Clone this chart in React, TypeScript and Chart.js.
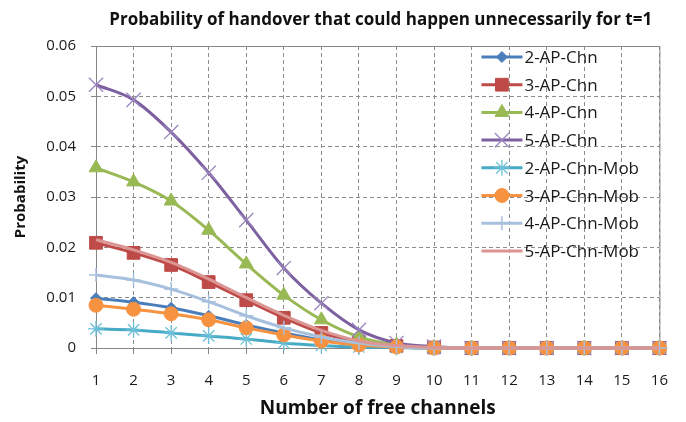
import React, { useEffect, useRef } from 'react';
import { Chart, registerables } from 'chart.js';
import { drawPoint } from 'chart.js/helpers';

Chart.register(...registerables);

const channels = ['1', '2', '3', '4', '5', '6', '7', '8', '9', '10', '11', '12', '13', '14', '15', '16'];

const apChn2 = [0.0099, 0.0091, 0.008, 0.0064, 0.0046, 0.003, 0.0016, 0.0007, 0.0002, 0, 0, 0, 0, 0, 0, 0];
const apChn3 = [0.0209, 0.0189, 0.0165, 0.0131, 0.0095, 0.006, 0.003, 0.0012, 0.0004, 0.0001, 0, 0, 0, 0, 0, 0];
const apChn4 = [0.0358, 0.033, 0.0292, 0.0234, 0.0167, 0.0105, 0.0056, 0.0022, 0.0006, 0.0001, 0, 0, 0, 0, 0, 0];
const apChn5 = [0.0523, 0.0493, 0.0429, 0.0348, 0.0254, 0.0159, 0.0089, 0.0036, 0.001, 0.0003, 0, 0, 0, 0, 0, 0];
const apChnMob2 = [0.0038, 0.0036, 0.003, 0.0024, 0.0018, 0.001, 0.0005, 0.0002, 0.0001, 0, 0, 0, 0, 0, 0, 0];
const apChnMob3 = [0.0085, 0.0077, 0.0068, 0.0056, 0.004, 0.0026, 0.0014, 0.0006, 0.0002, 0, 0, 0, 0, 0, 0, 0];
const apChnMob4 = [0.0145, 0.0135, 0.0117, 0.0092, 0.0064, 0.004, 0.0022, 0.001, 0.0003, 0, 0, 0, 0, 0, 0, 0];
const apChnMob5 = [0.0215, 0.0195, 0.017, 0.0137, 0.01, 0.0065, 0.0035, 0.0014, 0.0005, 0.0001, 0, 0, 0, 0, 0, 0];

const seriesNames = ['2-AP-Chn', '3-AP-Chn', '4-AP-Chn', '5-AP-Chn', '2-AP-Chn-Mob', '3-AP-Chn-Mob', '4-AP-Chn-Mob', '5-AP-Chn-Mob'];
const seriesData = [apChn2, apChn3, apChn4, apChn5, apChnMob2, apChnMob3, apChnMob4, apChnMob5];

const yTicks = [0, 0.01, 0.02, 0.03, 0.04, 0.05, 0.06];

const chartTitle = 'Probability of handover that could happen unnecessarily for t=1';
const xTitle = 'Number of free channels';
const yTitle = 'Probability';

const styles = [
  { color: '#4a7ebb', marker: '#4a7ebb', style: 'rectRot', r: 5.5, bw: 1 },
  { color: '#be4b48', marker: '#be4b48', style: 'rect', r: 9, bw: 1 },
  { color: '#98b954', marker: '#98b954', style: 'triangle', r: 8, bw: 1 },
  { color: '#7d60a0', marker: '#9a86bd', style: 'crossRot', r: 10, bw: 1.3 },
  { color: '#46aac5', marker: '#6cc0d8', style: 'star', r: 8, bw: 1.3 },
  { color: '#f69240', marker: '#f69240', style: 'circle', r: 7, bw: 1 },
  { color: '#a7c0de', marker: '#a7c0de', style: 'cross', r: 7, bw: 1.5 },
  { color: '#db9694', marker: '#db9694', style: false as any, r: 0, bw: 0 },
];

const FONT = '"Open Sans", Lato, sans-serif';

const framePlugin = {
  id: 'frame',
  beforeDatasetsDraw(chart: any) {
    const { ctx, chartArea: a } = chart;
    ctx.save();
    ctx.strokeStyle = '#868686';
    ctx.lineWidth = 1;
    ctx.beginPath();
    ctx.moveTo(a.left, a.top + 0.5);
    ctx.lineTo(a.right + 0.5, a.top + 0.5);
    ctx.lineTo(a.right + 0.5, a.bottom);
    ctx.stroke();
    ctx.restore();
  },
  afterDraw(chart: any) {
    const { ctx, chartArea: a } = chart;
    ctx.save();
    // title
    ctx.fillStyle = '#111';
    ctx.font = `bold 17px ${FONT}`;
    ctx.textAlign = 'center';
    ctx.textBaseline = 'alphabetic';
    ctx.fillText(chartTitle, (a.left + a.right) / 2 + 3, 25);
    // legend
    const x0 = a.right - 178;
    const y0 = a.top + 11;
    const step = 27.7;
    chart.data.datasets.forEach((ds: any, i: number) => {
      const y = y0 + i * step;
      ctx.strokeStyle = ds.borderColor;
      ctx.lineWidth = ds.borderWidth;
      ctx.beginPath();
      ctx.moveTo(x0, y);
      ctx.lineTo(x0 + 41, y);
      ctx.stroke();
      if (ds.pointStyle) {
        ctx.fillStyle = ds.pointBackgroundColor;
        ctx.strokeStyle = ds.pointBorderColor;
        ctx.lineWidth = ds.pointBorderWidth;
        drawPoint(ctx, { pointStyle: ds.pointStyle, radius: ds.pointRadius, borderWidth: ds.pointBorderWidth, rotation: 0 } as any, x0 + 20.5, y);
      }
      ctx.fillStyle = '#1a1a1a';
      ctx.font = `17px ${FONT}`;
      ctx.textAlign = 'left';
      ctx.textBaseline = 'alphabetic';
      ctx.fillText(ds.label, x0 + 43, y + 6);
    });
    ctx.restore();
  },
};

export default function App() {
  const ref = useRef<HTMLCanvasElement | null>(null);
  useEffect(() => {
    if (!ref.current) return;
    const datasets = seriesData.map((d, i) => {
      const s = styles[i];
      return {
        label: seriesNames[i],
        data: d,
        borderColor: s.color,
        backgroundColor: s.color,
        borderWidth: 3,
        pointStyle: s.style,
        pointRadius: s.r,
        pointBackgroundColor: s.marker,
        pointBorderColor: s.marker,
        pointBorderWidth: s.bw,
        pointHoverRadius: s.r,
        cubicInterpolationMode: 'monotone' as const,
        tension: 0.4,
        clip: false as any,
        order: 8 - i,
      };
    });
    const chart = new Chart(ref.current, {
      type: 'line',
      data: { labels: channels, datasets },
      plugins: [framePlugin],
      options: {
        responsive: false,
        animation: false,
        layout: { padding: { top: 46, right: 21, left: 0, bottom: 0 } },
        plugins: { legend: { display: false }, title: { display: false }, tooltip: { enabled: false } },
        scales: {
          x: {
            type: 'category',
            offset: false,
            afterFit: (s: any) => { s.height = 74; },
            grid: { color: '#8c8c8c', tickLength: 6, tickColor: '#868686', lineWidth: 1 },
            border: { color: '#868686', dash: [4, 3] },
            ticks: { color: '#1a1a1a', font: { family: FONT, size: 15 }, padding: 18, maxRotation: 0, autoSkip: false },
            title: { display: true, text: xTitle, color: '#111', font: { family: FONT, size: 19, weight: 'bold' }, padding: { top: 0, bottom: 2 } },
          },
          y: {
            min: 0,
            max: 0.06,
            afterFit: (s: any) => { s.width = 96; },
            afterBuildTicks: (s: any) => { s.ticks = yTicks.map((v) => ({ value: v })); },
            grid: { color: '#8c8c8c', tickLength: 5, tickColor: '#868686', lineWidth: 1 },
            border: { color: '#868686', dash: [4, 3] },
            ticks: {
              color: '#1a1a1a',
              font: { family: FONT, size: 15 },
              padding: 15,
              callback: (v: any) => (Number(v) === 0 ? '0' : Number(v).toFixed(2)),
            },
            title: { display: true, text: yTitle, color: '#111', font: { family: FONT, size: 15, weight: 'bold' }, padding: { top: 12, bottom: 0 } },
          },
        },
      },
    });
    return () => chart.destroy();
  }, []);
  return (
    <div style={{ position: 'fixed', left: 0, top: 0, width: 686, height: 422, background: '#fff' }}>
      <canvas ref={ref} width={686} height={422} />
    </div>
  );
}
